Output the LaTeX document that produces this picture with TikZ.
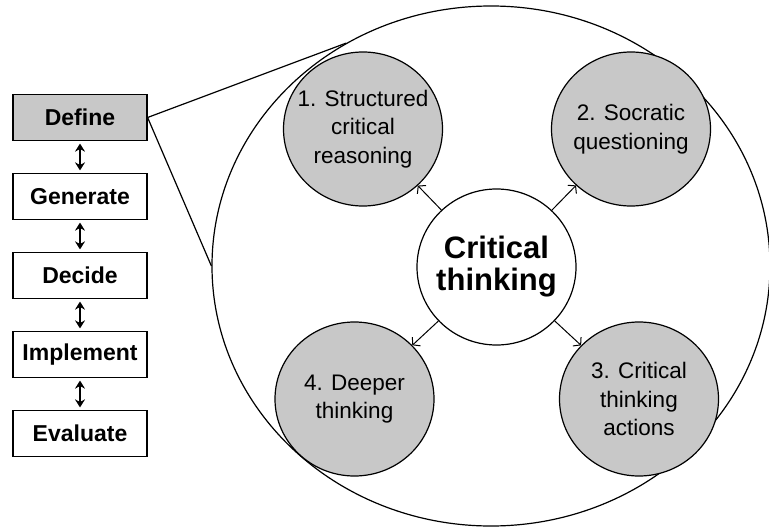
\documentclass[tikz,border=0pt]{standalone}
\usepackage{fontspec}
\setmainfont{Liberation Sans}
\usetikzlibrary{arrows.meta,shapes.geometric,positioning}

\definecolor{partgray}{RGB}{200,200,200}

\tikzset{
    stage/.style={draw, rectangle, line width=1.2pt, minimum width=134pt, minimum height=46pt,
        font=\fontsize{23}{26}\selectfont\bfseries},
    part/.style={draw, ellipse, line width=1.2pt, fill=partgray, inner sep=0pt,
        minimum width=159pt, minimum height=154pt},
    parttext/.style={align=center, font=\fontsize{22.5}{28.5}\selectfont},
    hubtext/.style={align=center, font=\fontsize{31}{32}\selectfont\bfseries},
}

\begin{document}
\begin{tikzpicture}[x=1pt, y=-1pt, >={Stealth[length=8pt,width=10pt,inset=2.5pt]},
    node distance=79pt, line width=1.2pt]
    \useasboundingbox (0,0) rectangle (769,527);

    % Nodes {define, generate, decide, implement, evaluate}
    \node [stage, fill=partgray]    (define) at (80,117.5)          {Define};
    \node [stage]                   (generate)  [below of=define]   {Generate};
    \node [stage]                   (decide)    [below of=generate] {Decide};
    \node [stage]                   (implement) [below of=decide]   {Implement};
    \node [stage]                   (evaluate)  [below of=implement]{Evaluate};

    % Zoomed view {lens, hub, p1, p2, p3, p4}
    \node [draw, ellipse, minimum width=558pt, minimum height=520pt, inner sep=0pt]
        (lens) at (491,266) {};
    \draw (define.east) -- (lens.123);
    \draw (define.east) -- (lens.west);

    \node [part, label={[parttext]center:{1. Structured\\critical\\reasoning}}] (p1) at (363,129)   {};
    \node [part, label={[parttext]center:{2. Socratic\\questioning}}]           (p2) at (631,129)   {};
    \node [part, label={[parttext]center:{3. Critical\\thinking\\actions}}]     (p3) at (639,399)   {};
    \node [part, label={[parttext]center:{4. Deeper\\thinking}}]                (p4) at (354.5,399) {};
    \node [part, fill=white, minimum height=156pt,
        label={[hubtext]center:{Critical\\thinking}}]                          (hub) at (496.5,267) {};

    % Paths
    \path [<->, shorten >=2.5pt, shorten <=2.5pt] (define)    edge (generate);
    \path [<->, shorten >=2.5pt, shorten <=2.5pt] (generate)  edge (decide);
    \path [<->, shorten >=2.5pt, shorten <=2.5pt] (decide)    edge (implement);
    \path [<->, shorten >=2.5pt, shorten <=2.5pt] (implement) edge (evaluate);

    \foreach \p in {p1,p2,p3,p4}
        \draw [-{Straight Barb[length=5pt,width=12pt]}, line width=1pt] (hub) -- (\p);
\end{tikzpicture}
\end{document}
